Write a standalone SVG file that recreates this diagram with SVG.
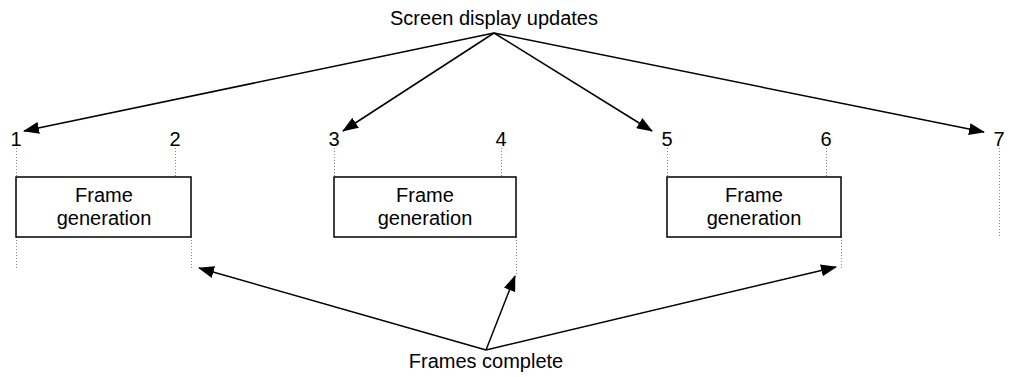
<svg xmlns="http://www.w3.org/2000/svg" width="1016" height="377" viewBox="0 0 1016 377">
<style>
text{font-family:"Liberation Sans",Arial,sans-serif;font-size:20px;fill:#000;text-anchor:middle}
.box{fill:#fff;stroke:#000;stroke-width:1.5}
.dot{stroke:#888;stroke-width:1;stroke-dasharray:1,2;fill:none}
.arr{stroke:#000;stroke-width:1.5;fill:none;marker-end:url(#ah)}
</style>
<defs>
<marker id="ah" markerWidth="16" markerHeight="12" refX="15" refY="6" orient="auto" markerUnits="userSpaceOnUse">
<path d="M0,0 L16,6 L0,12 z" fill="#000"/>
</marker>
</defs>
<rect width="1016" height="377" fill="#fff"/>
<g id="guides">
<path class="dot" d="M16.5,148V177M16.5,237V268M175.5,148V177M191.5,237V268M334.5,148V177M501.5,148V177M516.5,237V276M667.5,148V177M826.5,148V177M841.5,237V268M999.5,148V237"/>
</g>
<g id="labels">
<text x="16" y="146">1</text>
<text x="175" y="146">2</text>
<text x="334" y="146">3</text>
<text x="501" y="146">4</text>
<text x="667" y="146">5</text>
<text x="826" y="146">6</text>
<text x="999" y="146">7</text>
</g>
<g id="frame1">
<rect class="box" x="16" y="177" width="175" height="60"/>
<text x="104" y="202">Frame</text>
<text x="104" y="225">generation</text>
</g>
<g id="frame2">
<rect class="box" x="334" y="177" width="182" height="60"/>
<text x="425" y="202">Frame</text>
<text x="425" y="225">generation</text>
</g>
<g id="frame3">
<rect class="box" x="667" y="177" width="174" height="60"/>
<text x="754" y="202">Frame</text>
<text x="754" y="225">generation</text>
</g>
<g id="screen-updates">
<text x="494" y="25">Screen display updates</text>
</g>
<g id="frames-complete">
<text x="486" y="368">Frames complete</text>
</g>
<g id="connectors">
<line class="arr" x1="494" y1="33" x2="24" y2="131"/>
<line class="arr" x1="494" y1="33" x2="343" y2="131"/>
<line class="arr" x1="494" y1="33" x2="652" y2="131"/>
<line class="arr" x1="494" y1="33" x2="984" y2="132"/>
<line class="arr" x1="486" y1="350" x2="199" y2="268"/>
<line class="arr" x1="486" y1="350" x2="515" y2="276"/>
<line class="arr" x1="486" y1="350" x2="836" y2="267"/>
</g>
</svg>
